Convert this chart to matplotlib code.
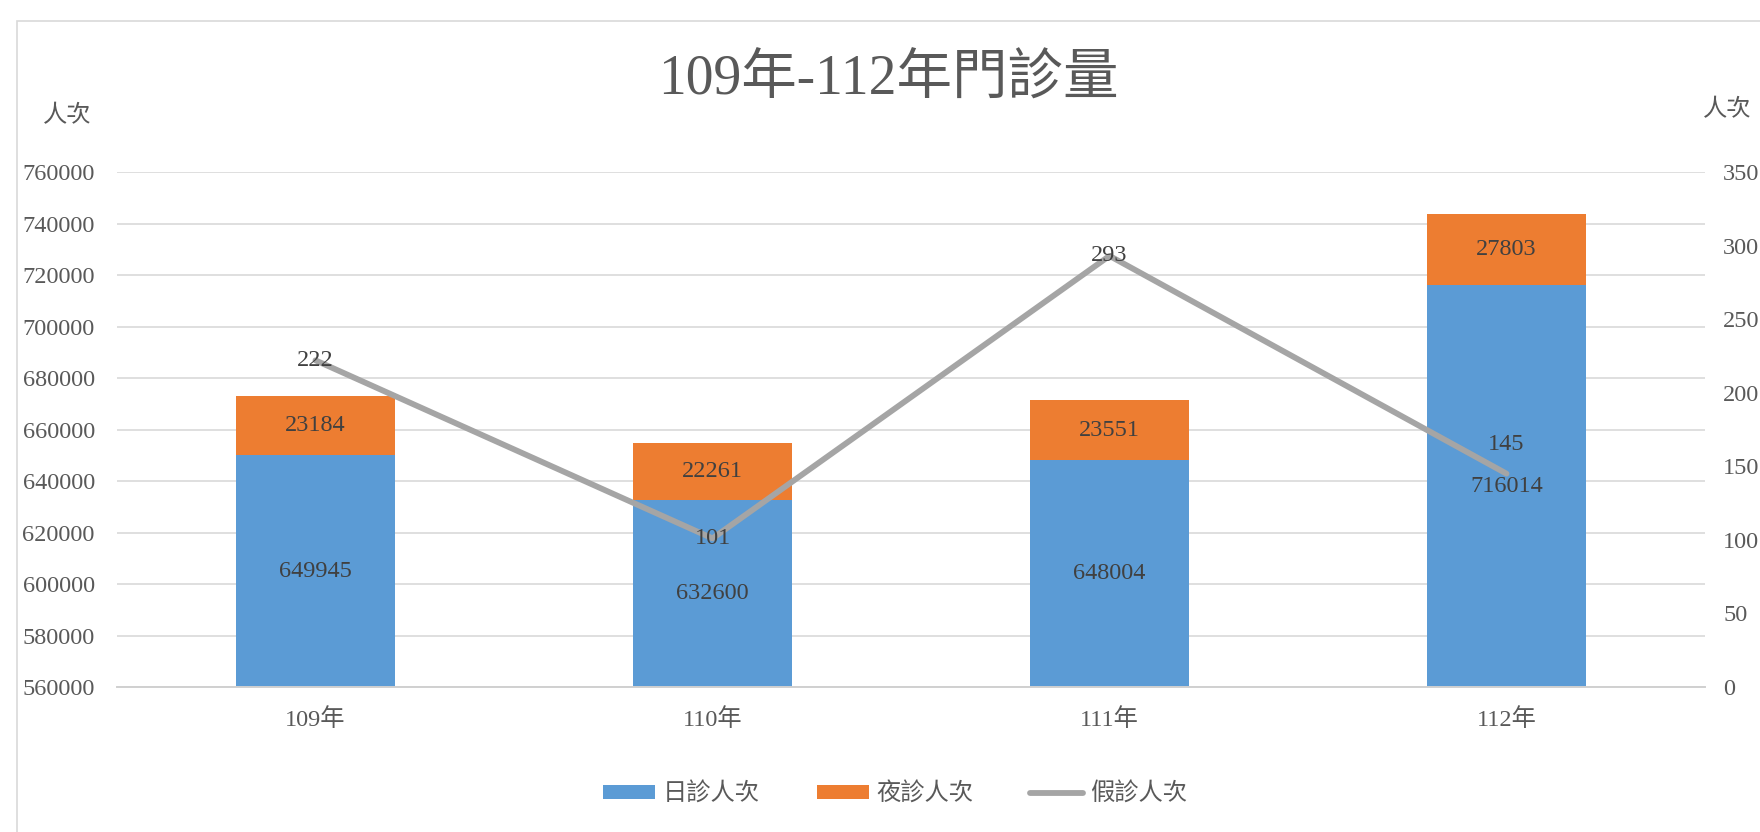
import matplotlib
matplotlib.use("Agg")
import matplotlib.pyplot as plt
from matplotlib.patches import Rectangle
import numpy as np

plt.rcParams['font.family'] = ['Liberation Serif', 'Noto Sans CJK TC', 'DejaVu Sans']

# data
years = ["109年", "110年", "111年", "112年"]
day_visits = [649945, 632600, 648004, 716014]
night_visits = [23184, 22261, 23551, 27803]
holiday_visits = [222, 101, 293, 145]

BLUE = "#5B9BD5"
ORANGE = "#ED7D31"
GRAY = "#A5A5A5"
TEXT = "#595959"
LABEL = "#404040"
GRID = "#D9D9D9"

W, H = 1760, 832
fig = plt.figure(figsize=(W / 100, H / 100), dpi=100)
fig.patch.set_facecolor("white")

# chart frame (runs off the right and bottom edge)
fig.patches.append(Rectangle((17 / W, -0.1), 1.2, (H - 21) / H + 0.1,
                             transform=fig.transFigure, fill=False,
                             edgecolor=GRID, linewidth=1.2))

left, right = 117 / W, 1705 / W
bottom, top = 1 - 687 / H, 1 - 172 / H
ax = fig.add_axes([left, bottom, right - left, top - bottom])
ax2 = ax.twinx()

x = np.arange(len(years))
width = 0.4
y_min, y_max = 560000, 760000

ax.bar(x, day_visits, width, color=BLUE, label="日診人次", zorder=2)
ax.bar(x, night_visits, width, bottom=day_visits, color=ORANGE, label="夜診人次", zorder=2)
ax2.plot(x, holiday_visits, color=GRAY, linewidth=4.2, solid_capstyle="round",
         label="假診人次", zorder=3)

ax.set_xlim(-0.5, len(years) - 0.5)
ax.set_ylim(y_min, y_max)
ax.set_yticks(np.arange(y_min, y_max + 1, 20000))
ax2.set_ylim(0, 350)
ax2.set_yticks(np.arange(0, 351, 50))

ax.set_axisbelow(True)
ax.grid(axis="y", color=GRID, linewidth=1.2)
for a in (ax, ax2):
    for s in a.spines.values():
        s.set_visible(False)
ax.spines["bottom"].set_visible(True)
ax.spines["bottom"].set_color("#D0D0D0")
ax.spines["bottom"].set_linewidth(1.4)

ax.set_xticks(x)
ax.set_xticklabels(years)
ax.tick_params(axis="x", length=0, pad=15, labelsize=17.5, labelcolor=TEXT)
ax.tick_params(axis="y", length=0, pad=16, labelsize=17.5, labelcolor=TEXT)
ax2.tick_params(axis="y", length=0, pad=13, labelsize=17.5, labelcolor=TEXT)

# data labels
for i in range(len(years)):
    ax.text(x[i], (y_min + day_visits[i]) / 2, str(day_visits[i]),
            ha="center", va="center", fontsize=17.5, color=LABEL, zorder=4)
    ax.text(x[i], day_visits[i] + night_visits[i] / 2, str(night_visits[i]),
            ha="center", va="center", fontsize=17.5, color=LABEL, zorder=4)
for i in range(len(years)):
    dy = 21 if i == 3 else 0
    ax2.annotate(str(holiday_visits[i]), (x[i], holiday_visits[i]),
                 xytext=(0, dy), textcoords="offset points",
                 ha="center", va="center", fontsize=17.5, color=LABEL, zorder=5)

fig.text(888 / W, 1 - 81 / H, "109年-112年門診量", ha="center", va="center",
         fontsize=40, color=TEXT)
fig.text(67 / W, 1 - 116 / H, "人次", ha="center", va="center", fontsize=17.5, color=TEXT)
fig.text(1727 / W, 1 - 110 / H, "人次", ha="center", va="center", fontsize=17.5, color=TEXT)

handles = ax.get_legend_handles_labels()[0] + ax2.get_legend_handles_labels()[0]
labels = ["日診人次", "夜診人次", "假診人次"]
leg = fig.legend(handles, labels, loc="center", bbox_to_anchor=(895 / W, 1 - 794 / H),
                 ncol=3, frameon=False, fontsize=17.5, handlelength=2.15,
                 handleheight=0.55, handletextpad=0.3, columnspacing=2.35)
for t in leg.get_texts():
    t.set_color(TEXT)

fig.savefig("out.png", dpi=100)
